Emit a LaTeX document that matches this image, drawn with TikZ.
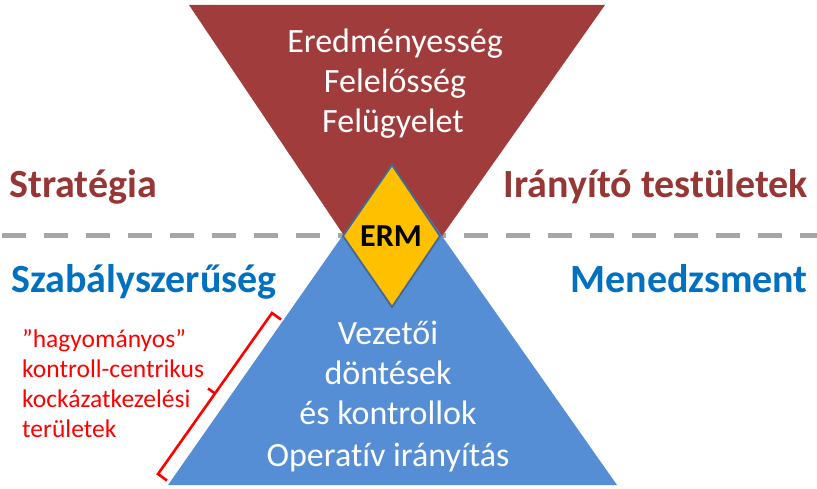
\documentclass[tikz,border=0pt]{standalone}
\usepackage{fontspec}
\setmainfont{Carlito}[Ligatures=NoCommon]
\usetikzlibrary{calc}
\definecolor{trired}{RGB}{160,61,60}
\definecolor{triblue}{RGB}{85,142,213}
\definecolor{ermfill}{RGB}{255,192,0}
\definecolor{ermline}{RGB}{65,105,150}
\definecolor{lblred}{RGB}{150,55,53}
\definecolor{lblblue}{RGB}{0,112,192}
\definecolor{dashgray}{RGB}{166,166,166}
\begin{document}
\begin{tikzpicture}[x=1pt,y=-1pt,
  inner text/.style={text=white,font=\fontsize{34}{34}\selectfont,anchor=base,inner sep=0pt},
  side lbl/.style={font=\fontsize{40}{40}\selectfont\bfseries,anchor=base west,inner sep=0pt},
  note/.style={text=red,font=\fontsize{25.5}{25.5}\selectfont,anchor=base west,inner sep=0pt},
  bracket/.style={draw=red,line width=2.6pt,line join=miter,line cap=butt}]
\useasboundingbox (0,0) rectangle (817,489);
% dashed separator
\coordinate (dl) at (2,236);
\coordinate (dr) at (817,236);
\draw[dashgray,line width=5pt,dash pattern=on 24pt off 18pt] (dl) -- (dr);
% triangles
\coordinate (rt1) at (189,5);
\coordinate (rt2) at (605,5);
\coordinate (rt3) at (392,307);
\coordinate (bt1) at (392,165);
\coordinate (bt2) at (168,485);
\coordinate (bt3) at (617,485);
\fill[trired] (rt1) -- (rt2) -- (rt3) -- cycle;
\fill[triblue] (bt1) -- (bt2) -- (bt3) -- cycle;
% diamond
\coordinate (dT) at (392,165);
\coordinate (dL) at (343,236);
\coordinate (dB) at (392,307);
\coordinate (dR) at (440,236);
\filldraw[fill=ermfill,draw=ermline,line width=1.8pt,line join=miter] (dT) -- (dR) -- (dB) -- (dL) -- cycle;
\node[font=\fontsize{32}{32}\selectfont\bfseries,anchor=base,inner sep=0pt] (erm) at (391,247) {ERM};
% red triangle texts
\node[inner text] (t1) at (395,53) {Eredményesség};
\node[inner text] (t2) at (395,93) {Felelősség};
\node[inner text] (t3) at (393,133) {Felügyelet};
% blue triangle texts
\node[inner text] (b1) at (388,344) {Vezetői};
\node[inner text] (b2) at (388,384) {döntések};
\node[inner text] (b3) at (388,424) {és kontrollok};
\node[inner text] (b4) at (388,466) {Operatív irányítás};
% side labels
\node[side lbl,text=lblred] (s1) at (9,198) {Stratégia};
\node[side lbl,text=lblred,anchor=base east] (s2) at (808,198) {Irányító testületek};
\node[side lbl,text=lblblue] (s3) at (11,293) {Szabályszerűség};
\node[side lbl,text=lblblue,anchor=base east] (s4) at (808,293) {Menedzsment};
% note
\node[note] (n1) at (22,347) {”hagyományos”};
\node[note] (n2) at (22,377) {kontroll-centrikus};
\node[note] (n3) at (22,407) {kockázatkezelési};
\node[note] (n4) at (22,437) {területek};
% bracket
\coordinate (bA) at (272,313);
\coordinate (bB) at (158,474);
\coordinate (bM) at (215,393.5);
\draw[bracket] ($(bA)+(9,6.5)$) -- (bA) -- (bB) -- ($(bB)+(9,6.5)$);
\draw[bracket] (bM) -- ($(bM)+(-7,-5)$);
\end{tikzpicture}
\end{document}
